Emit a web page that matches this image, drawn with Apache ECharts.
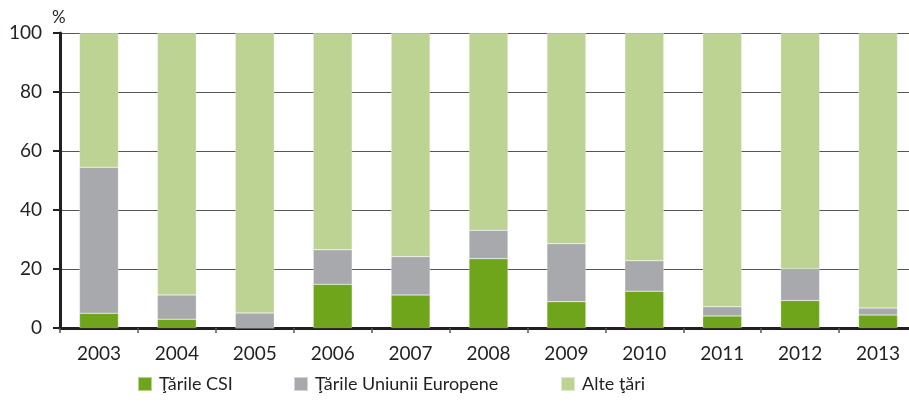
<!DOCTYPE html>
<html><head><meta charset="utf-8">
<script src="https://cdn.jsdelivr.net/npm/echarts@6/dist/echarts.min.js"></script>
<style>html,body{margin:0;padding:0;background:#fff}#c{width:909px;height:405px}</style>
</head><body><div id="c"></div>
<script>
var categories = ['2003','2004','2005','2006','2007','2008','2009','2010','2011','2012','2013'];
var csi = [5, 3, 0, 14.8, 11.2, 23.5, 8.9, 12.5, 4.1, 9.3, 4.4];
var eu = [49.5, 8.2, 5.1, 11.7, 13, 9.6, 19.7, 10.3, 3.1, 10.7, 2.4];
var other = [45.5, 88.8, 94.9, 73.5, 75.8, 66.9, 71.4, 77.2, 92.8, 80, 93.2];
var yTicks = [0, 20, 40, 60, 80, 100];
var names = ['Ţările CSI', 'Ţările Uniunii Europene', 'Alte ţări'];

var font = 'Lato';
var chart = echarts.init(document.getElementById('c'));
function ser(name, data, color){
  return {name:name, type:'bar', stack:'s', data:data, barWidth:'50%',
    itemStyle:{color:color, borderColor:'rgba(255,255,255,0.5)', borderWidth:0.5}};
}
var legendLefts = [137, 293, 560];
var legends = names.map(function(n, i){
  return {left:legendLefts[i], top:375, itemWidth:14, itemHeight:14, icon:'rect', padding:0,
    textStyle:{fontSize:18, color:'#231f20', fontFamily:font, padding:[0,0,0,2]}, data:[n]};
});
chart.setOption({
  animation:false,
  textStyle:{fontFamily:font},
  grid:{left:60, width:857, top:33, bottom:77, containLabel:false, outerBoundsMode:'none'},
  graphic:[{type:'text', left:52, top:9, style:{text:'%', fontSize:17, fontFamily:font, fill:'#231f20'}}],
  legend:legends,
  xAxis:{type:'category', data:categories,
    axisLine:{lineStyle:{color:'#231f20', width:3}},
    axisTick:{show:true, length:5, lineStyle:{color:'#555', width:1.5}},
    axisLabel:{fontSize:19, color:'#231f20', margin:16}},
  yAxis:{type:'value', min:yTicks[0], max:yTicks[yTicks.length-1], interval:20,
    axisLine:{show:true, lineStyle:{color:'#231f20', width:3}},
    axisTick:{show:true, length:7, lineStyle:{color:'#231f20', width:2}},
    axisLabel:{fontSize:19, color:'#231f20', margin:18},
    splitLine:{lineStyle:{color:'#555', width:1}}},
  series:[ser(names[0], csi, '#6fa51a'), ser(names[1], eu, '#a8a9ad'), ser(names[2], other, '#bcd393')]
});
</script></body></html>
